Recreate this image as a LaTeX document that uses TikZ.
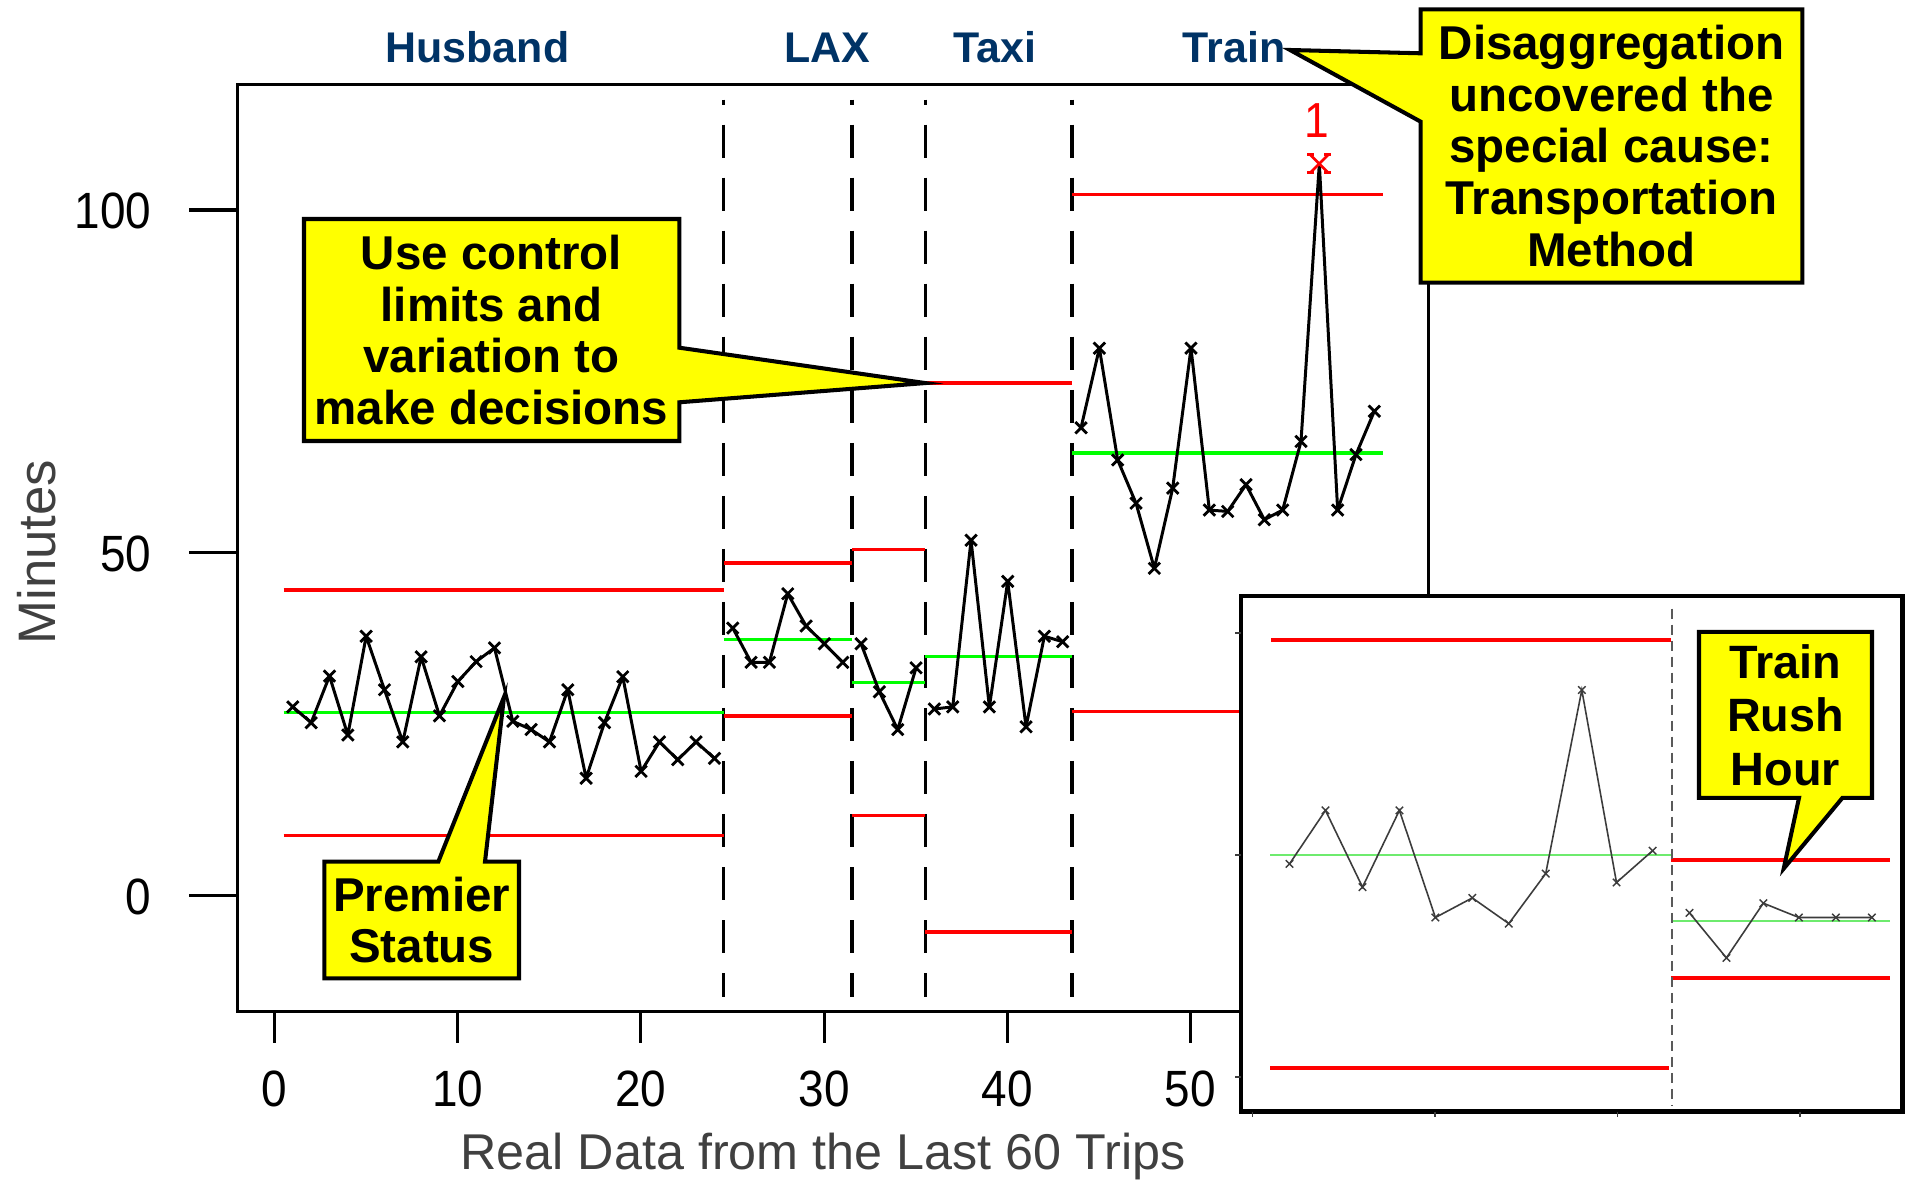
\documentclass[tikz,border=0pt]{standalone}
\usepackage{fontspec}
\setmainfont{Liberation Sans}
\newfontfamily\ticksfont[FakeStretch=0.9]{Liberation Sans}
\usetikzlibrary{calc}

\definecolor{stagenavy}{RGB}{0,51,102}
\definecolor{axisgray}{RGB}{64,64,64}
\definecolor{limitred}{RGB}{255,0,0}
\definecolor{meangreen}{RGB}{0,255,0}
\definecolor{softgreen}{RGB}{110,235,110}
\definecolor{noteyellow}{RGB}{255,255,0}
\definecolor{insetgray}{RGB}{60,60,60}
\definecolor{sepgray}{RGB}{90,90,90}

\tikzset{
  plotframe/.style={draw=black, line width=1pt},
  axistick/.style={draw=black, line width=0.9pt},
  stagesep/.style={draw=black, line width=0.95pt, dash pattern=on 0.33cm off 0.2cm, dash phase=0.28cm},
  limitline/.style={draw=limitred, line width=0.95pt},
  meanline/.style={draw=meangreen, line width=0.95pt},
  tripline/.style={draw=black, line width=0.85pt, line join=round},
  tripmarks/.style={only marks, mark=x, mark size=2.3pt, mark options={draw=black, line width=0.8pt}},
  notebox/.style={fill=noteyellow, draw=black, line width=1.15pt, line join=miter},
  notetext/.style={font=\bfseries\fontsize{13.5}{14.7}\selectfont, align=center, inner sep=0pt},
  stagename/.style={font=\bfseries\fontsize{12.2}{14}\selectfont, text=stagenavy, inner sep=0pt, anchor=base},
  ticknum/.style={font=\ticksfont\fontsize{14.5}{16}\selectfont, inner sep=0pt},
  axistitle/.style={font=\fontsize{14.3}{16}\selectfont, text=axisgray, inner sep=0pt},
  redmark/.style={draw=limitred, line width=0.75pt},
  insetbox/.style={fill=white, draw=black, line width=1.4pt},
  insettick/.style={draw=insetgray, line width=0.5pt},
  insetlimit/.style={draw=limitred, line width=1.15pt},
  insetmean/.style={draw=softgreen, line width=0.6pt},
  insetsep/.style={draw=sepgray, line width=0.45pt, dash pattern=on 0.1cm off 0.06cm},
  insetline/.style={draw=insetgray, line width=0.45pt},
  insetmarks/.style={only marks, mark=x, mark size=1.5pt, mark options={draw=insetgray, line width=0.4pt}},
}

\begin{document}
\begin{tikzpicture}[x=0.01cm, y=-0.01cm]
\useasboundingbox (0,0) rectangle (1911,1185);
\fill[white] (0,0) rectangle (1911,1185);

% ---------- axes frame, ticks and titles ----------
\coordinate (frameNW) at (237.5,84.5);
\coordinate (frameSE) at (1428.5,1011.5);
\draw[plotframe] (frameNW) rectangle (frameSE);

\foreach \v/\yy in {0/895.5, 50/552.75, 100/210} {
  \draw[axistick] (189,\yy) -- (237.5,\yy);
  \node[ticknum, anchor=base east] (ylab\v) at (152,\yy+18.5) {\v};
}
\foreach \t in {0,10,...,50} {
  \pgfmathsetmacro\xx{274.5+18.32*\t}
  \draw[axistick] (\xx,1011.5) -- (\xx,1043);
  \node[ticknum, anchor=base] (xlab\t) at (\xx,1106) {\t};
}

\node[axistitle, anchor=base] (xtitle) at (823,1169) {Real Data from the Last 60 Trips};
\node[axistitle, font=\fontsize{15}{17}\selectfont, rotate=90, anchor=base] (ytitle) at (55,552) {Minutes};

% ---------- stage names ----------
\node[stagename] (husbandlbl) at (477.5,63) {Husband};
\node[stagename] (laxlbl) at (827.5,63) {LAX};
\node[stagename] (taxilbl) at (995,63) {Taxi};
\node[stagename] (trainlbl) at (1234,63) {Train};

% ---------- control chart in data units (trip, minutes) ----------
\begin{scope}[shift={(274.5,895.5)}, x=0.1832cm, y=0.06855cm]
  % stage separators
  \foreach \s [count=\i] in {24.5,31.5,35.5,43.5} {
    \coordinate (sep\i top) at (\s,116.05);
    \coordinate (sep\i bot) at (\s,-14.8);
    \draw[stagesep] (sep\i top) -- (sep\i bot);
  }

  % limits and centre lines per stage
  \draw[limitline] (0.5,44.57) -- (24.5,44.57);
  \draw[meanline]  (0.5,26.67) -- (24.5,26.67);
  \draw[limitline] (0.5,8.72)  -- (24.5,8.72);

  \draw[limitline] (24.5,48.46) -- (31.5,48.46);
  \draw[meanline]  (24.5,37.36) -- (31.5,37.36);
  \draw[limitline] (24.5,26.16) -- (31.5,26.16);

  \draw[limitline] (31.5,50.42) -- (35.5,50.42);
  \draw[meanline]  (31.5,31.03) -- (35.5,31.03);
  \draw[limitline] (31.5,11.64) -- (35.5,11.64);

  \coordinate (taxiucl) at (35.5,74.72);
  \draw[limitline] (taxiucl) -- (43.5,74.72);
  \draw[meanline]  (35.5,34.89) -- (43.5,34.89);
  \draw[limitline] (35.5,-5.34) -- (43.5,-5.34);

  \draw[limitline] (43.5,102.26) -- (60.5,102.26);
  \draw[meanline]  (43.5,64.51) -- (60.5,64.51);
  \draw[limitline] (43.5,26.8) -- (60.5,26.8);

  % trip times
  \def\husband{(1,27.5) (2,25.2) (3,32.0) (4,23.4) (5,37.8) (6,30.0) (7,22.4) (8,34.8) (9,26.2) (10,31.2) (11,34.1) (12,36.1) (13,25.4) (14,24.2) (15,22.4) (16,30.0) (17,17.1) (18,25.2) (19,31.9) (20,18.1) (21,22.4) (22,19.8) (23,22.4) (24,20.0)}
  \def\lax{(25,39.0) (26,34.0) (27,34.0) (28,44.0) (29,39.3) (30,36.7) (31,34.0)}
  \def\taxi{(32,36.7) (33,29.7) (34,24.2) (35,33.2)}
  \def\car{(36,27.2) (37,27.5) (38,51.8) (39,27.5) (40,45.8) (41,24.6) (42,37.8) (43,37.0)}
  \def\trainA{(44,68.2) (45,79.8) (46,63.5) (47,57.2) (48,47.7) (49,59.4) (50,79.8) (51,56.2) (52,56.0) (53,59.9) (54,54.8) (55,56.2) (56,66.2)}
  \def\trainB{(58,56.2) (59,64.3) (60,70.6)}

  \draw[tripline] plot coordinates {\husband};
  \draw[tripline] plot coordinates {\lax};
  \draw[tripline] plot coordinates {\taxi};
  \draw[tripline] plot coordinates {\car};
  \draw[tripline] plot coordinates {\trainA (57,106.7) \trainB};

  \draw plot[tripmarks] coordinates {\husband};
  \draw plot[tripmarks] coordinates {\lax};
  \draw plot[tripmarks] coordinates {\taxi};
  \draw plot[tripmarks] coordinates {\car};
  \draw plot[tripmarks] coordinates {\trainA};
  \draw plot[tripmarks] coordinates {\trainB};

  \coordinate (outpt) at (57,106.7);
\end{scope}

% out-of-control point: red cross with small serifs, and its rule number
\draw[redmark] ($(outpt)+(-9,-9)$) -- ($(outpt)+(9,9)$);
\draw[redmark] ($(outpt)+(-9,9)$) -- ($(outpt)+(9,-9)$);
\draw[redmark] ($(outpt)+(-12,-9)$) -- ($(outpt)+(-5,-9)$);
\draw[redmark] ($(outpt)+(5,-9)$) -- ($(outpt)+(12,-9)$);
\draw[redmark] ($(outpt)+(-12,9)$) -- ($(outpt)+(-5,9)$);
\draw[redmark] ($(outpt)+(5,9)$) -- ($(outpt)+(12,9)$);
\node[font=\ticksfont\fontsize{14}{16}\selectfont, text=limitred, inner sep=0pt] (rulelbl) at (1317,121) {1};

% ---------- callouts on the main chart ----------
\coordinate (premtip) at (504,697);
\draw[notebox] (324.3,861.7) -- (438.3,861.7) -- (premtip) -- (485,861.7) -- (519,861.7)
  -- (519,978.3) -- (324.3,978.3) -- cycle;
\node[notetext] (premier) at (421.7,920) {Premier\\Status};

\draw[notebox] (304,219) -- (679.3,219) -- (679.3,347.7) -- (taxiucl) -- (679.3,402.3)
  -- (679.3,441) -- (304,441) -- cycle;
\node[notetext] (usecontrol) at (491.5,330) {Use control\\limits and\\variation to\\make decisions};

\coordinate (distip) at (1290,50);
\draw[notebox] (1420.7,9.3) -- (1802.3,9.3) -- (1802.3,282.7) -- (1420.7,282.7)
  -- (1420.7,121.7) -- (distip) -- (1420.7,53.3) -- cycle;
\node[notetext] (disagg) at (1611.5,146) {Disaggregation\\uncovered the\\special cause:\\Transportation\\Method};

% ---------- inset: train trips split by rush hour ----------
\draw[insetbox] (1241,596) rectangle (1902.5,1111.5);
\foreach \yy in {633,855,1077} \draw[insettick] (1235,\yy) -- (1241,\yy);
\foreach \xx in {1252.6,1435,1617.4,1799.8} \draw[insettick] (\xx,1111.5) -- (\xx,1117);

\draw[insetlimit] (1271,639.6) -- (1671,639.6);
\draw[insetmean]  (1270,854.6) -- (1671,854.6);
\draw[insetlimit] (1270,1067.9) -- (1669,1067.9);
\draw[insetlimit] (1671,859.6) -- (1890,859.6);
\draw[insetmean]  (1672,921) -- (1890,921);
\draw[insetlimit] (1671,978.2) -- (1890,978.2);
\coordinate (rushtop) at (1672,608.6);
\coordinate (rushbot) at (1672,1105);
\draw[insetsep] (rushtop) -- (rushbot);

\def\offpeak{(1289.5,863.9) (1325.5,810.4) (1362.5,887.1) (1399.4,810.4) (1435.4,917.5) (1472.3,897.9) (1508.8,923.6) (1545.7,873.6) (1581.8,690) (1616.5,882.5) (1652.6,850.7)}
\def\rush{(1689.5,912.9) (1726.4,957.9) (1763.3,903.2) (1798.9,917.5) (1835.9,917.5) (1871.9,917.5)}
\draw[insetline] plot coordinates {\offpeak};
\draw[insetline] plot coordinates {\rush};
\draw plot[insetmarks] coordinates {\offpeak};
\draw plot[insetmarks] coordinates {\rush};

\coordinate (rushtip) at (1783.7,868.6);
\draw[notebox] (1699,631.8) -- (1872,631.8) -- (1872,797.9) -- (1842.4,797.9) -- (rushtip)
  -- (1799,797.9) -- (1699,797.9) -- cycle;
\node[notetext, font=\bfseries\fontsize{13.3}{15.2}\selectfont] (rushnote) at (1785.5,714.9) {Train\\Rush\\Hour};

\end{tikzpicture}
\end{document}
